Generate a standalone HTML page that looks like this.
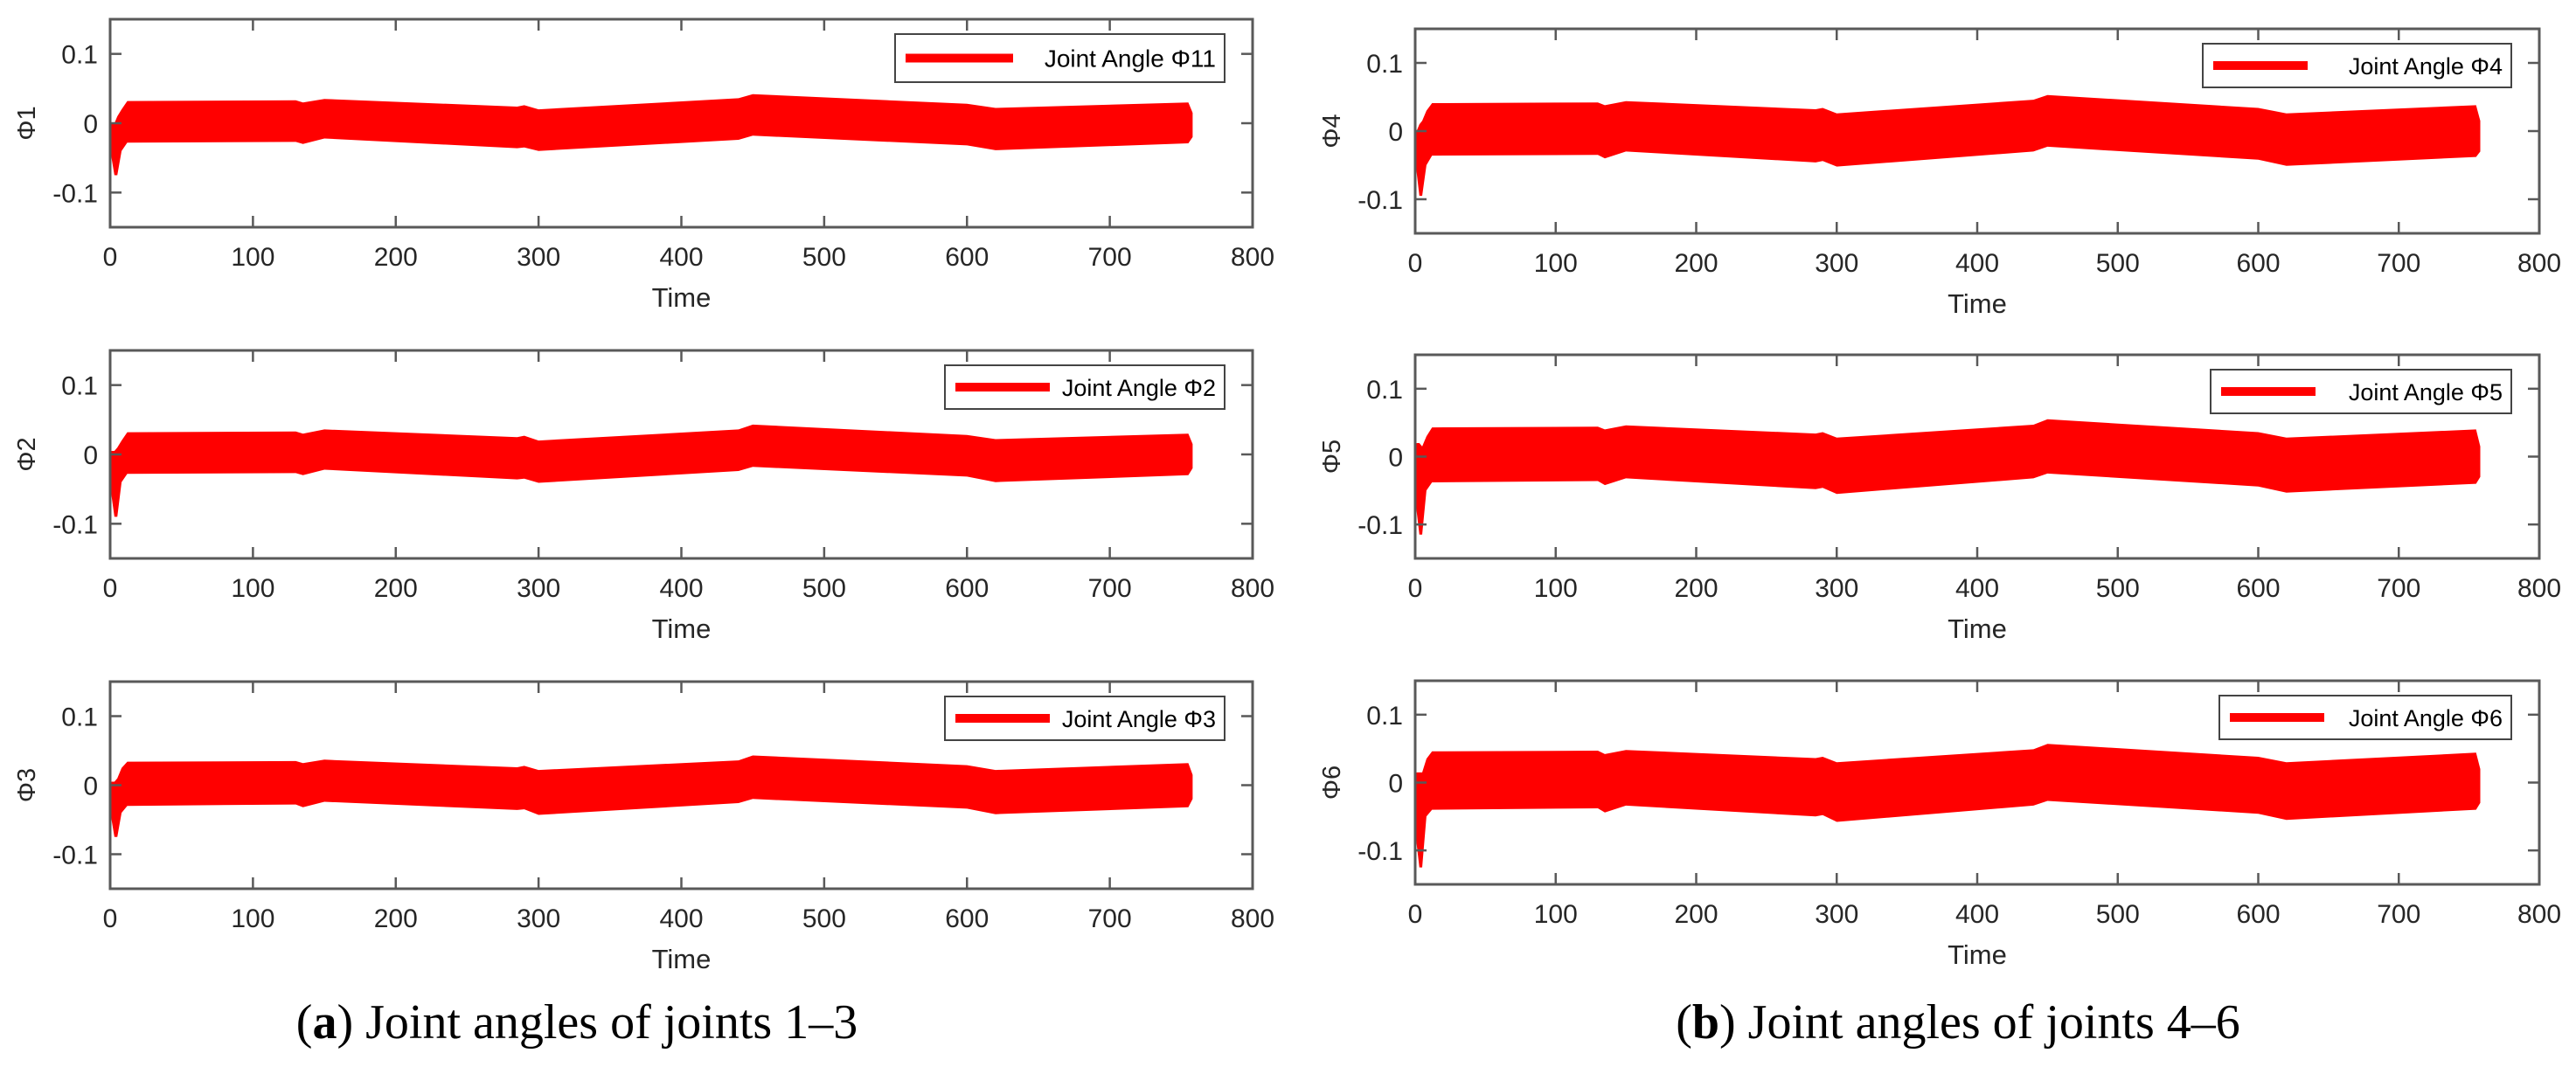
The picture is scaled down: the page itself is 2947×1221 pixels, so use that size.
<!DOCTYPE html>
<html><head><meta charset="utf-8"><style>
html,body{margin:0;padding:0;background:#fff;}
svg{display:block;}
</style></head><body>
<svg id="fig" width="2947" height="1221" viewBox="0 0 2947 1221" xmlns="http://www.w3.org/2000/svg">
<text x="660" y="1188" text-anchor="middle" font-family="Liberation Serif, serif" font-size="56" fill="#000">(<tspan font-weight="bold">a</tspan>) Joint angles of joints 1–3</text>
<text x="2240" y="1188" text-anchor="middle" font-family="Liberation Serif, serif" font-size="56" fill="#000">(<tspan font-weight="bold">b</tspan>) Joint angles of joints 4–6</text>
</svg>
<script>
// shared time samples
const times = [0, 1, 3, 5, 8, 12, 130, 135, 150, 285, 290, 300, 440, 450, 600, 620, 755, 758];
// per-panel envelopes (upper / lower)
const upper1 = [0.000, 0.000, 0.000, 0.010, 0.020, 0.032, 0.033, 0.030, 0.035, 0.024, 0.026, 0.020, 0.036, 0.042, 0.028, 0.022, 0.030, 0.015];
const lower1 = [-0.005, -0.050, -0.075, -0.075, -0.040, -0.028, -0.027, -0.030, -0.022, -0.036, -0.035, -0.040, -0.024, -0.018, -0.032, -0.039, -0.029, -0.020];
const upper2 = [0.000, 0.005, 0.005, 0.010, 0.020, 0.032, 0.033, 0.030, 0.036, 0.025, 0.027, 0.020, 0.036, 0.043, 0.028, 0.022, 0.030, 0.015];
const lower2 = [-0.005, -0.060, -0.090, -0.090, -0.040, -0.028, -0.027, -0.030, -0.022, -0.036, -0.035, -0.041, -0.024, -0.018, -0.032, -0.040, -0.030, -0.020];
const upper3 = [0.000, 0.005, 0.005, 0.010, 0.025, 0.034, 0.035, 0.032, 0.037, 0.026, 0.028, 0.022, 0.036, 0.043, 0.029, 0.022, 0.032, 0.015];
const lower3 = [-0.005, -0.050, -0.075, -0.075, -0.040, -0.030, -0.028, -0.032, -0.024, -0.036, -0.035, -0.043, -0.026, -0.020, -0.034, -0.042, -0.032, -0.020];
const upper4 = [0.000, 0.000, 0.010, 0.015, 0.030, 0.041, 0.042, 0.038, 0.044, 0.032, 0.034, 0.026, 0.046, 0.053, 0.034, 0.026, 0.038, 0.015];
const lower4 = [-0.005, -0.060, -0.095, -0.095, -0.050, -0.036, -0.035, -0.040, -0.030, -0.046, -0.044, -0.052, -0.030, -0.023, -0.042, -0.051, -0.038, -0.030];
const upper5 = [0.000, 0.020, 0.020, 0.015, 0.030, 0.043, 0.044, 0.040, 0.046, 0.034, 0.036, 0.028, 0.047, 0.055, 0.036, 0.028, 0.040, 0.015];
const lower5 = [-0.005, -0.080, -0.115, -0.115, -0.050, -0.038, -0.036, -0.042, -0.032, -0.048, -0.046, -0.055, -0.032, -0.025, -0.044, -0.053, -0.040, -0.030];
const upper6 = [0.000, 0.015, 0.015, 0.015, 0.035, 0.046, 0.047, 0.042, 0.048, 0.036, 0.038, 0.030, 0.049, 0.057, 0.038, 0.030, 0.044, 0.020];
const lower6 = [-0.005, -0.090, -0.125, -0.125, -0.050, -0.040, -0.038, -0.044, -0.034, -0.050, -0.048, -0.058, -0.034, -0.027, -0.046, -0.055, -0.040, -0.030];
const xTicks = [0, 100, 200, 300, 400, 500, 600, 700, 800];
const yTicks = [0.1, 0, -0.1];
const yTickLabels = ["0.1", "0", "-0.1"];
const yNames = ["Φ1", "Φ2", "Φ3", "Φ4", "Φ5", "Φ6"];
const legendNames = ["Joint Angle Φ11", "Joint Angle Φ2", "Joint Angle Φ3", "Joint Angle Φ4", "Joint Angle Φ5", "Joint Angle Φ6"];

const uppers = [upper1, upper2, upper3, upper4, upper5, upper6];
const lowers = [lower1, lower2, lower3, lower4, lower5, lower6];
const frames = [
  {l:126, r:1433, t:22, b:260, lw:377},
  {l:126, r:1433, t:401, b:639, lw:320},
  {l:126, r:1433, t:780, b:1017, lw:320},
  {l:1619, r:2905, t:33, b:267, lw:353},
  {l:1619, r:2905, t:406, b:639, lw:344},
  {l:1619, r:2905, t:779, b:1012, lw:334}
];
const NS = "http://www.w3.org/2000/svg";
const svg = document.getElementById('fig');
function mk(tag, attrs, parent){
  const e = document.createElementNS(NS, tag);
  for (const k in attrs) e.setAttribute(k, attrs[k]);
  (parent||svg).appendChild(e);
  return e;
}
const FONT = "Liberation Sans, Arial, sans-serif";
frames.forEach((f, i) => {
  const g = mk('g', {});
  
  
  const xs = v => f.l + (v/800)*(f.r - f.l);
  const ys = v => f.b - ((v + 0.15)/0.3)*(f.b - f.t);
  let pts = [];
  times.forEach((t, j) => pts.push(xs(t).toFixed(1) + ',' + ys(uppers[i][j]).toFixed(1)));
  for (let j = times.length - 1; j >= 0; j--) pts.push(xs(times[j]).toFixed(1) + ',' + ys(lowers[i][j]).toFixed(1));
  const band = mk('polygon', {points: pts.join(' '), fill: '#ff0000'}, g);
  
  
  const box = mk('rect', {x:f.l, y:f.t, width:f.r-f.l, height:f.b-f.t, fill:'none', stroke:'#595959', 'stroke-width':3}, g);
  
  
  xTicks.forEach(v => {
    const x = xs(v);
    mk('line', {x1:x, x2:x, y1:f.b, y2:f.b-13, stroke:'#595959', 'stroke-width':2.5}, g);
    mk('line', {x1:x, x2:x, y1:f.t, y2:f.t+13, stroke:'#595959', 'stroke-width':2.5}, g);
    const tl = mk('text', {x:x, y:f.b+44, 'text-anchor':'middle', 'font-family':FONT, 'font-size':30, fill:'#262626'}, g);
    tl.textContent = v;
    
    
  });
  yTicks.forEach((v, k) => {
    const y = ys(v);
    mk('line', {x1:f.l, x2:f.l+13, y1:y, y2:y, stroke:'#595959', 'stroke-width':2.5}, g);
    mk('line', {x1:f.r, x2:f.r-13, y1:y, y2:y, stroke:'#595959', 'stroke-width':2.5}, g);
    const tl = mk('text', {x:f.l-14, y:y+11, 'text-anchor':'end', 'font-family':FONT, 'font-size':30, fill:'#262626'}, g);
    tl.textContent = yTickLabels[k];
    
    
  });
  const xl = mk('text', {x:(f.l+f.r)/2, y:f.b+91, 'text-anchor':'middle', 'font-family':FONT, 'font-size':31, fill:'#262626'}, g);
  xl.textContent = 'Time';
  
  
  const cy = (f.t+f.b)/2;
  const yl = mk('text', {x:0, y:0, 'text-anchor':'middle', 'font-family':FONT, 'font-size':29, fill:'#262626', transform:'translate(' + (f.l - 86) + ',' + cy + ') rotate(-90)'}, g);
  yl.textContent = yNames[i];
  
  
  const lx2 = f.r - 32, lx1 = lx2 - f.lw, ly1 = f.t + 17, ly2 = ly1 + (i===0?55:50);
  const lg = mk('g', {}, g);
  
  
  mk('rect', {x:lx1, y:ly1, width:lx2-lx1, height:ly2-ly1, fill:'#fff', stroke:'#444', 'stroke-width':2}, lg);
  const my = (ly1+ly2)/2;
  const lline = mk('line', {x1:lx1+12, x2:lx1+(i===0?135:120), y1:my, y2:my, stroke:'#ff0000', 'stroke-width':10}, lg);
  
  
  const lt = mk('text', {x:lx2-10, y:my+10, 'text-anchor':'end', 'font-family':FONT, 'font-size':i===0?28:27, fill:'#000'}, lg);
  lt.textContent = legendNames[i];
  
  
});
</script>
</body></html>
